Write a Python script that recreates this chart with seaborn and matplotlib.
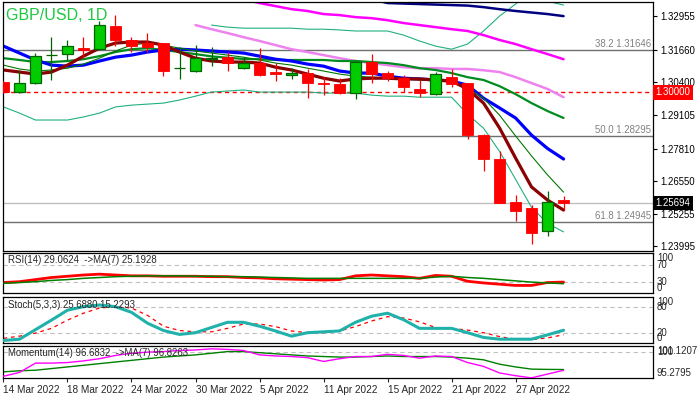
import numpy as np
import pandas as pd
import matplotlib
matplotlib.use("Agg")
import matplotlib.pyplot as plt
import matplotlib.transforms as mtransforms
import seaborn as sns

sns.set_style("white")
plt.rcParams['font.family'] = ['Liberation Sans', 'DejaVu Sans']

# ---------------- data ----------------
dates = ["14 Mar 2022", "15 Mar 2022", "16 Mar 2022", "17 Mar 2022", "18 Mar 2022",
         "21 Mar 2022", "22 Mar 2022", "23 Mar 2022", "24 Mar 2022", "25 Mar 2022",
         "28 Mar 2022", "29 Mar 2022", "30 Mar 2022", "31 Mar 2022", "1 Apr 2022",
         "4 Apr 2022", "5 Apr 2022", "6 Apr 2022", "7 Apr 2022", "8 Apr 2022",
         "11 Apr 2022", "12 Apr 2022", "13 Apr 2022", "14 Apr 2022", "15 Apr 2022",
         "18 Apr 2022", "19 Apr 2022", "20 Apr 2022", "21 Apr 2022", "22 Apr 2022",
         "25 Apr 2022", "26 Apr 2022", "27 Apr 2022", "28 Apr 2022", "29 Apr 2022",
         "2 May 2022"]

open_ = [1.3040, 1.3001, 1.3036, 1.3145, 1.3149, 1.3172, 1.3169, 1.3258, 1.3204, 1.3192,
         1.3192, 1.3094, 1.3083, 1.3128, 1.3137, 1.3095, 1.3114, 1.3079, 1.3067, 1.3075,
         1.3036, 1.3032, 1.2997, 1.3118, 1.3075, 1.3056, 1.3013, 1.2993, 1.3059, 1.3036,
         1.2833, 1.2740, 1.2572, 1.2549, 1.2459, 1.2580]
high = [1.3045, 1.3087, 1.3153, 1.3215, 1.3204, 1.3215, 1.3278, 1.3301, 1.3215, 1.3231,
        1.3192, 1.3176, 1.3184, 1.3176, 1.3157, 1.3137, 1.3172, 1.3114, 1.3095, 1.3091,
        1.3059, 1.3055, 1.3120, 1.3149, 1.3083, 1.3067, 1.3048, 1.3079, 1.3091, 1.3036,
        1.2836, 1.2771, 1.2600, 1.2561, 1.2615, 1.2596]
low = [1.2998, 1.2999, 1.3032, 1.3048, 1.3126, 1.3133, 1.3165, 1.3180, 1.3157, 1.3157,
       1.3063, 1.3052, 1.3080, 1.3104, 1.3083, 1.3091, 1.3065, 1.3044, 1.3052, 1.2978,
       1.2989, 1.2993, 1.2974, 1.3036, 1.3044, 1.3001, 1.2981, 1.2989, 1.3020, 1.2818,
       1.2693, 1.2567, 1.2498, 1.2409, 1.2440, 1.2541]
close = [1.3001, 1.3036, 1.3143, 1.3146, 1.3180, 1.3165, 1.3262, 1.3204, 1.3180, 1.3176,
         1.3083, 1.3095, 1.3133, 1.3132, 1.3114, 1.3114, 1.3067, 1.3071, 1.3075, 1.3036,
         1.3032, 1.2997, 1.3118, 1.3071, 1.3056, 1.3020, 1.2997, 1.3071, 1.3032, 1.2833,
         1.2740, 1.2569, 1.2537, 1.2452, 1.2572, 1.2569]

nan = np.nan
ma_fast = [1.3087, 1.3079, 1.3071, 1.3079, 1.3106, 1.3141, 1.3172, 1.3192, 1.3196, 1.3196,
           1.3184, 1.3157, 1.3133, 1.3122, 1.3118, 1.3118, 1.3114, 1.3098, 1.3087, 1.3071,
           1.3055, 1.3044, 1.3052, 1.3055, 1.3055, 1.3052, 1.3052, 1.3048, 1.3044, 1.3013,
           1.2958, 1.2861, 1.2744, 1.2631, 1.2580, 1.2541]
ma_thin = [1.3106, 1.3091, 1.3083, 1.3087, 1.3094, 1.3110, 1.3133, 1.3161, 1.3184, 1.3192,
           1.3184, 1.3172, 1.3161, 1.3153, 1.3145, 1.3137, 1.3126, 1.3114, 1.3106, 1.3094,
           1.3083, 1.3071, 1.3063, 1.3059, 1.3055, 1.3052, 1.3048, 1.3048, 1.3044, 1.3016,
           1.2977, 1.2911, 1.2830, 1.2752, 1.2678, 1.2611]
ma_blue = [1.3180, 1.3153, 1.3126, 1.3106, 1.3102, 1.3106, 1.3122, 1.3137, 1.3145, 1.3157,
           1.3165, 1.3168, 1.3165, 1.3161, 1.3157, 1.3153, 1.3141, 1.3129, 1.3122, 1.3110,
           1.3102, 1.3083, 1.3075, 1.3075, 1.3063, 1.3055, 1.3052, 1.3048, 1.3044, 1.3028,
           1.2977, 1.2939, 1.2900, 1.2833, 1.2781, 1.2740]
ma_mid = [1.3133, 1.3126, 1.3118, 1.3118, 1.3122, 1.3129, 1.3141, 1.3157, 1.3168, 1.3172,
          1.3165, 1.3157, 1.3149, 1.3140, 1.3135, 1.3130, 1.3129, 1.3126, 1.3126, 1.3126,
          1.3126, 1.3122, 1.3122, 1.3118, 1.3114, 1.3106, 1.3094, 1.3087, 1.3075, 1.3059,
          1.3048, 1.3024, 1.2993, 1.2958, 1.2927, 1.2900]
bb_upper = [nan, nan, nan, nan, nan, nan, nan, nan, nan, nan,
            nan, nan, nan, 1.3262, 1.3254, 1.3250, 1.3250, 1.3250, 1.3250, 1.3246,
            1.3246, 1.3243, 1.3239, 1.3239, 1.3239, 1.3223, 1.3200, 1.3180, 1.3168, 1.3188,
            1.3239, 1.3297, 1.3344, 1.3391, 1.3355, 1.3340]
bb_lower = [1.2943, 1.2919, 1.2892, 1.2892, 1.2892, 1.2904, 1.2919, 1.2943, 1.2950, 1.2954,
            1.2958, 1.2970, 1.2985, 1.3001, 1.3005, 1.3009, 1.3001, 1.3001, 1.3001, 1.3001,
            1.2997, 1.2997, 1.2997, 1.2989, 1.2985, 1.2985, 1.2981, 1.2981, 1.2981, 1.2915,
            1.2860, 1.2770, 1.2661, 1.2552, 1.2489, 1.2456]
ma_violet = [nan, nan, nan, nan, nan, nan, nan, nan, nan, nan,
             nan, nan, 1.3262, 1.3246, 1.3231, 1.3215, 1.3200, 1.3184, 1.3168, 1.3157,
             1.3145, 1.3133, 1.3122, 1.3114, 1.3106, 1.3098, 1.3094, 1.3094, 1.3091, 1.3091,
             1.3086, 1.3079, 1.3059, 1.3036, 1.3013, 1.2981]
ma_magenta = [nan, nan, nan, nan, nan, nan, nan, nan, nan, nan,
              nan, nan, nan, nan, nan, 1.3363, 1.3348, 1.3336, 1.3324, 1.3317,
              1.3305, 1.3301, 1.3293, 1.3289, 1.3281, 1.3270, 1.3262, 1.3254, 1.3246, 1.3239,
              1.3223, 1.3204, 1.3188, 1.3168, 1.3149, 1.3129]
ma_navy = [nan, nan, nan, nan, nan, nan, nan, nan, nan, nan,
           nan, nan, nan, nan, nan, nan, nan, nan, nan, nan,
           nan, nan, nan, 1.3363, 1.3348, 1.3346, 1.3344, 1.3342, 1.3340, 1.3338,
           1.3332, 1.3324, 1.3317, 1.3311, 1.3305, 1.3297]

rsi = [28, 30, 35, 40, 43, 46, 48, 46, 44, 44, 43, 43, 43, 42, 42, 40, 39, 37, 36, 35,
       34, 35, 44, 46, 44, 42, 38, 45, 43, 31, 27, 24, 21, 21, 28, 29.0624]
rsi_ma = [26, 28, 30, 33, 35, 38, 40, 42, 43, 44, 44, 44, 43, 43, 42, 42, 41, 40, 39, 38,
          38, 38, 38, 38, 38, 38, 38, 41, 43, 40, 38, 35, 32, 29, 27, 25.1928]
stoch_k = [2, 5, 27, 49, 72, 80, 84, 80, 67, 42, 25, 16, 20, 32, 44, 44, 35, 24, 12, 20,
           22, 24, 44, 58, 65, 50, 30, 30, 30, 20, 9, 5, 5, 5, 15, 25.6880]
stoch_d = [7, 12, 19, 30, 49, 65, 77, 80, 77, 60, 35, 25, 22, 22, 30, 40, 40, 34, 24, 20,
           20, 24, 34, 47, 57, 54, 45, 32, 30, 26, 20, 11, 5, 4, 8, 15.2293]
mom = [95.6, 96.3, 98.0, 98.0, 98.1, 98.4, 98.8, 99.4, 99.8, 100.0, 100.1, 100.3, 100.4,
       100.6, 100.5, 100.3, 99.5, 99.3, 99.2, 99.0, 98.3, 98.8, 99.2, 99.2, 99.6, 99.4,
       98.9, 99.3, 99.2, 98.1, 97.4, 96.2, 95.7, 95.3, 96.0, 96.6832]
mom_ma = [96.4, 96.6, 96.7, 97.0, 97.3, 97.6, 97.9, 98.2, 98.5, 98.8, 99.1, 99.3, 99.5,
          99.8, 100.1, 100.1, 99.9, 99.7, 99.5, 99.3, 99.2, 99.1, 99.1, 99.2, 99.3, 99.2,
          99.2, 99.2, 99.1, 98.9, 98.6, 97.8, 97.3, 96.9, 96.85, 96.8263]

price_ticks = [1.32955, 1.31660, 1.30400, 1.29105, 1.27810, 1.26550, 1.25255, 1.23995]
fibo_levels = [1.31646, 1.28295, 1.24945]
fibo_names = ["38.2", "50.0", "61.8"]
round_level = 1.30000
last_price = 1.25694

# ---------------- layout ----------------
W, H = 698, 399
fig = plt.figure(figsize=(W / 100, H / 100), dpi=100)
fig.patch.set_facecolor("white")


def rect(l, t, r, b):
    return [l / W, 1 - b / H, (r - l) / W, (b - t) / H]


ax = fig.add_axes(rect(3, 2, 653, 251))
ax_rsi = fig.add_axes(rect(3, 253, 653, 293))
ax_st = fig.add_axes(rect(3, 297, 653, 343))
ax_mo = fig.add_axes(rect(3, 346, 653, 378))
all_axes = (ax, ax_rsi, ax_st, ax_mo)

n = len(close)
idx = np.arange(n)
XL = (-0.03, 40.59)
label_fs = 6.9


def line(a, vals, **kw):
    v = np.asarray(vals, dtype=float)
    m = ~np.isnan(v)
    d = pd.DataFrame({"x": idx[m], "y": v[m]})
    sns.lineplot(data=d, x="x", y="y", ax=a, estimator=None, sort=False,
                 legend=False, **kw)


for a in all_axes:
    a.set_facecolor("white")
    for s in a.spines.values():
        s.set_color("black")
        s.set_linewidth(0.9)

# ---------------- main price panel ----------------
for lv in fibo_levels:
    ax.axhline(lv, color="#707070", lw=1.0, zorder=1)
ax.axhline(last_price, color="#C0C0C0", lw=1.0, zorder=1)
ax.axhline(round_level, color="#FF0000", lw=1.0, ls=(0, (3, 2.5)), zorder=1)

line(ax, bb_upper, color="#20B080", linewidth=0.8, zorder=2)
line(ax, bb_lower, color="#20B080", linewidth=0.8, zorder=2)
line(ax, ma_navy, color="#000080", linewidth=1.8, zorder=2)
line(ax, ma_magenta, color="#FF00FF", linewidth=1.8, zorder=2)
line(ax, ma_violet, color="#EE82EE", linewidth=1.8, zorder=2)
line(ax, ma_mid, color="#008C1E", linewidth=1.6, zorder=2)
line(ax, ma_blue, color="#0000FF", linewidth=2.3, zorder=2)
line(ax, ma_thin, color="#007800", linewidth=0.8, zorder=2)
line(ax, ma_fast, color="#8B0000", linewidth=2.3, zorder=2)

bw = 0.69
for i in range(n):
    o, h, l, c = open_[i], high[i], low[i], close[i]
    up = c >= o
    wick = "#006400" if up else "#FF0000"
    ax.vlines(i, l, h, color=wick, lw=0.9, zorder=4)
    bottom = min(o, c)
    height = max(abs(c - o), 0.00002)
    if up:
        ax.bar(i, height, bottom=bottom, width=bw, color="#00CC00",
               edgecolor="#006400", linewidth=0.9, zorder=5)
    else:
        ax.bar(i, height, bottom=bottom, width=bw, color="#FF0000",
               edgecolor="#FF0000", linewidth=0.6, zorder=5)

ax.set_ylim(1.23815, 1.3352)
ax.yaxis.tick_right()
ax.set_yticks(price_ticks)
ax.set_yticklabels([f"{v:.5f}" for v in price_ticks])
ax.tick_params(axis="y", direction="out", length=3, width=0.8, pad=2,
               labelsize=label_fs, colors="black")
ax.set_xticks([])

trans = mtransforms.blended_transform_factory(ax.transAxes, ax.transData)
for lv, nm in zip(fibo_levels, fibo_names):
    ax.text(0.997, lv + 0.0004, f"{nm} {lv:.5f}", transform=trans, ha="right",
            va="bottom", fontsize=label_fs, color="#808080")
ax.text(1.004, round_level, f"{round_level:.5f}", transform=trans, ha="left",
        va="center", fontsize=label_fs, color="white", clip_on=False, zorder=10,
        bbox=dict(facecolor="#FF0000", edgecolor="none", pad=1.6))
ax.text(1.004, last_price, f"{last_price:.5f}", transform=trans, ha="left",
        va="center", fontsize=label_fs, color="white", clip_on=False, zorder=10,
        bbox=dict(facecolor="black", edgecolor="none", pad=1.6))

fig.text(6 / W, 1 - 20 / H, "GBP/USD, 1D", fontsize=11.5, color="#1DC940",
         va="baseline", ha="left", zorder=20)


# ---------------- helpers for indicator panels ----------------
def side_labels(a, items):
    tr = mtransforms.blended_transform_factory(a.transAxes, a.transData)
    for val, txt, va in items:
        if va == "top":
            a.text(1.006, 0.99, txt, transform=a.transAxes, ha="left", va="top",
                   fontsize=label_fs, clip_on=False)
        elif va == "bottom":
            a.text(1.006, 0.0, txt, transform=a.transAxes, ha="left", va="bottom",
                   fontsize=label_fs, clip_on=False)
        else:
            a.text(1.006, val, txt, transform=tr, ha="left", va="center",
                   fontsize=label_fs, clip_on=False)


def level(a, v):
    a.axhline(v, color="#C0C0C0", lw=0.8, ls=(0, (4, 3)), zorder=1)


# RSI
level(ax_rsi, 70)
level(ax_rsi, 30)
line(ax_rsi, rsi_ma, color="#008000", linewidth=1.1, zorder=3)
line(ax_rsi, rsi, color="#FF0000", linewidth=2.0, zorder=2)
ax_rsi.set_ylim(2.9, 98.7)
ax_rsi.set_xticks([]); ax_rsi.set_yticks([])
ax_rsi.text(0.008, 0.82, f"RSI(14) {rsi[-1]:.4f}  ->MA(7) {rsi_ma[-1]:.4f}",
            transform=ax_rsi.transAxes, fontsize=label_fs, va="center", ha="left")
side_labels(ax_rsi, [(100, "100", "top"), (70, "70", "c"), (30, "30", "c"),
                     (0, "0", "bottom")])

# Stochastic
level(ax_st, 80)
level(ax_st, 20)
line(ax_st, stoch_k, color="#20B2AA", linewidth=2.2, zorder=3)
line(ax_st, stoch_d, color="#FF0000", linewidth=0.9, linestyle=(0, (3, 3)), zorder=2)
ax_st.set_ylim(-3.8, 102.4)
ax_st.set_xticks([]); ax_st.set_yticks([])
ax_st.text(0.008, 0.83, f"Stoch(5,3,3) {stoch_k[-1]:.4f} {stoch_d[-1]:.4f}",
           transform=ax_st.transAxes, fontsize=label_fs, va="center", ha="left")
side_labels(ax_st, [(100, "100", "top"), (80, "80", "c"), (20, "20", "c"),
                    (0, "0", "bottom")])

# Momentum
mo_lo, mo_hi = 95.2795, 101.1207
level(ax_mo, 100)
line(ax_mo, mom_ma, color="#008000", linewidth=1.0, zorder=2)
line(ax_mo, mom, color="#FF00FF", linewidth=1.0, zorder=3)
ax_mo.set_ylim(mo_lo, mo_hi)
ax_mo.set_yticks([])
ax_mo.text(0.008, 0.78, f"Momentum(14) {mom[-1]:.4f}  ->MA(7) {mom_ma[-1]:.4f}",
           transform=ax_mo.transAxes, fontsize=label_fs, va="center", ha="left")
side_labels(ax_mo, [(mo_hi, f"{mo_hi:.4f}", "top"), (100, "100", "c"),
                    (mo_lo, f"{mo_lo:.4f}", "bottom")])

tick_pos = list(range(0, n, 4))
ax_mo.set_xticks(tick_pos)
ax_mo.set_xticklabels([dates[i] for i in tick_pos])
ax_mo.tick_params(axis="x", direction="out", length=3, width=0.8, pad=2,
                  labelsize=label_fs + 0.3, bottom=True)
for t in ax_mo.get_xticklabels():
    t.set_ha("left")

for a in all_axes:
    a.set_xlim(*XL)
    a.set_xlabel("")
    a.set_ylabel("")

fig.savefig("out.png", dpi=100, facecolor="white")
